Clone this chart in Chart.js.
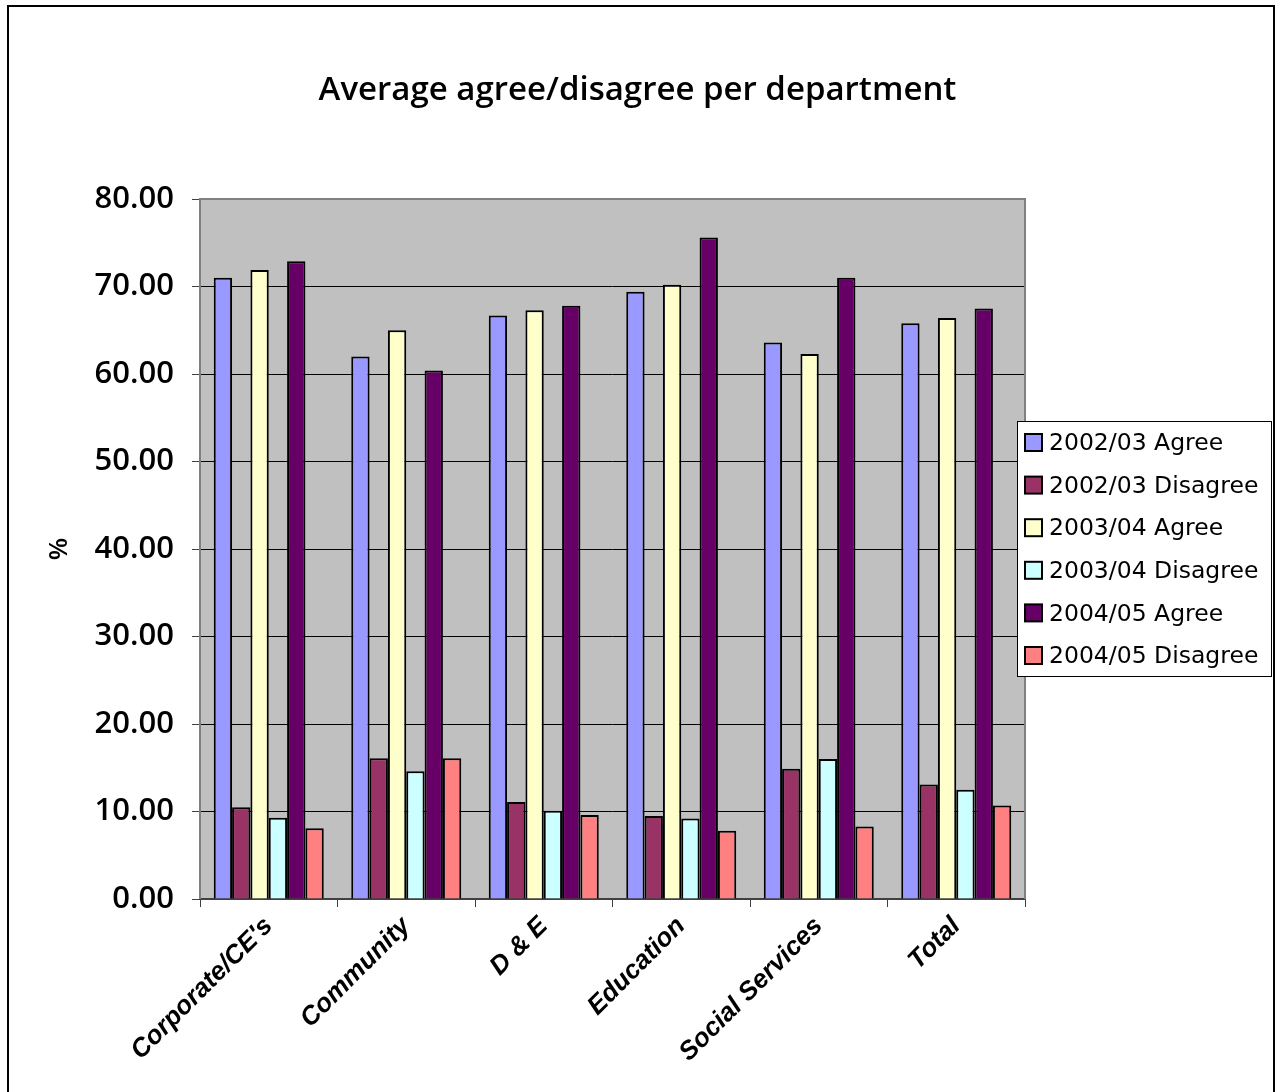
<!DOCTYPE html>
<html>
<head>
<meta charset="utf-8">
<script src="https://cdn.jsdelivr.net/npm/chart.js@4/dist/chart.umd.min.js"></script>
<style>
  html, body { margin: 0; padding: 0; background: #fff; }
  #wrap { position: relative; width: 1275px; height: 1092px; }
</style>
</head>
<body>
<div id="wrap"><canvas id="deptChart" width="1275" height="1092"></canvas></div>
<script>
const departments = ["Corporate/CE's", "Community", "D & E", "Education", "Social Services", "Total"];

const agree0203    = [71.0, 62.0, 66.7, 69.4, 63.6, 65.8];
const disagree0203 = [10.5, 16.1, 11.1, 9.5, 14.9, 13.1];
const agree0304    = [71.9, 65.0, 67.3, 70.2, 62.3, 66.4];
const disagree0304 = [9.3, 14.6, 10.1, 9.2, 16.0, 12.5];
const agree0405    = [72.9, 60.4, 67.8, 75.6, 71.0, 67.5];
const disagree0405 = [8.1, 16.1, 9.6, 7.8, 8.3, 10.7];

const seriesNames  = ["2002/03 Agree", "2002/03 Disagree", "2003/04 Agree",
                      "2003/04 Disagree", "2004/05 Agree", "2004/05 Disagree"];
const seriesColors = ["#9999FF", "#993366", "#FFFFCC", "#CCFFFF", "#660066", "#FF8080"];
const seriesValues = [agree0203, disagree0203, agree0304, disagree0304, agree0405, disagree0405];

const FONT = "'DejaVu Sans', sans-serif";
const HEAVY = "'Open Sans', 'DejaVu Sans', sans-serif";

// outer frame + grey plot background
const framePlugin = {
    id: "frame",
    beforeDraw(chart) {
        const ctx = chart.ctx;
        const a = chart.chartArea;
        ctx.save();
        ctx.fillStyle = "#fff";
        ctx.fillRect(0, 0, chart.width, chart.height);
        ctx.strokeStyle = "#000";
        ctx.lineWidth = 2;
        ctx.strokeRect(8, 6, 1266, 1200);
        ctx.fillStyle = "#C0C0C0";
        ctx.fillRect(a.left, a.top, a.right - a.left, a.bottom - a.top);
        ctx.restore();
    },
    afterDatasetsDraw(chart) {
        const ctx = chart.ctx;
        const a = chart.chartArea;
        ctx.save();
        ctx.strokeStyle = "#808080";
        ctx.lineWidth = 2;
        ctx.beginPath();
        ctx.moveTo(a.left, a.bottom);
        ctx.lineTo(a.left, a.top);
        ctx.lineTo(a.right, a.top);
        ctx.lineTo(a.right, a.bottom);
        ctx.stroke();
        ctx.restore();
    }
};

// boxed legend on the right, overlapping the plot edge
const boxLegend = {
    id: "boxLegend",
    afterDraw(chart) {
        const ctx = chart.ctx;
        const x = chart.chartArea.right - 8;
        const y = 421;
        const w = 254, h = 255;
        ctx.save();
        ctx.fillStyle = "#fff";
        ctx.fillRect(x, y, w, h);
        ctx.strokeStyle = "#000";
        ctx.lineWidth = 1;
        ctx.strokeRect(x + 0.5, y + 0.5, w, h);
        ctx.font = "23.5px " + FONT;
        ctx.textBaseline = "middle";
        chart.data.datasets.forEach((ds, i) => {
            const cy = y + 22 + i * 42.6;
            ctx.fillStyle = ds.backgroundColor;
            ctx.fillRect(x + 8, cy - 9, 17, 17);
            ctx.lineWidth = 2;
            ctx.strokeRect(x + 8, cy - 9, 17, 17);
            ctx.fillStyle = "#000";
            ctx.fillText(ds.label, x + 32, cy + 1);
        });
        ctx.restore();
    }
};

new Chart(document.getElementById("deptChart"), {
    type: "bar",
    data: {
        labels: departments,
        datasets: seriesNames.map((name, i) => ({
            label: name,
            data: seriesValues[i],
            backgroundColor: seriesColors[i],
            borderColor: "#000",
            borderWidth: 2,
            categoryPercentage: 0.8,
            barPercentage: 1.0
        }))
    },
    options: {
        responsive: false,
        animation: false,
        layout: { padding: 0 },
        plugins: {
            legend: { display: false },
            tooltip: { enabled: false },
            title: {
                display: true,
                text: "Average agree/disagree per department",
                color: "#000",
                font: { family: HEAVY, size: 33, weight: "600" },
                padding: { top: 71, bottom: 88.4 }
            }
        },
        scales: {
            x: {
                grid: {
                    drawOnChartArea: false,
                    offset: true,
                    tickLength: 8,
                    tickColor: "#404040"
                },
                border: { color: "#404040", width: 2 },
                ticks: {
                    color: "#000",
                    minRotation: 45,
                    maxRotation: 45,
                    padding: 4,
                    font: { family: "'Liberation Sans', Arial, sans-serif", size: 26, weight: "bold", style: "italic" }
                },
                afterFit(scale) { scale.height = 193; }
            },
            y: {
                min: 0,
                max: 80,
                ticks: {
                    stepSize: 10,
                    color: "#000",
                    padding: 18,
                    font: { family: HEAVY, size: 31, weight: "600" },
                    callback: v => v.toFixed(2)
                },
                grid: {
                    color: ctx => (ctx.tick && (ctx.tick.value === 0 || ctx.tick.value === 80)) ? "rgba(0,0,0,0)" : "#000",
                    lineWidth: 1,
                    tickLength: 8,
                    tickColor: "#404040"
                },
                border: { display: false },
                title: {
                    display: true,
                    text: "%",
                    color: "#000",
                    font: { family: HEAVY, size: 26, weight: "600" },
                    padding: { top: 44, bottom: 0 }
                },
                afterFit(scale) { scale.width = 200; }
            },
            // empty right-hand strip that leaves room for the legend box
            side: {
                position: "right",
                display: true,
                ticks: { display: false },
                grid: { display: false },
                border: { display: false },
                afterFit(scale) { scale.width = 250; }
            }
        }
    },
    plugins: [framePlugin, boxLegend]
});
</script>
</body>
</html>
